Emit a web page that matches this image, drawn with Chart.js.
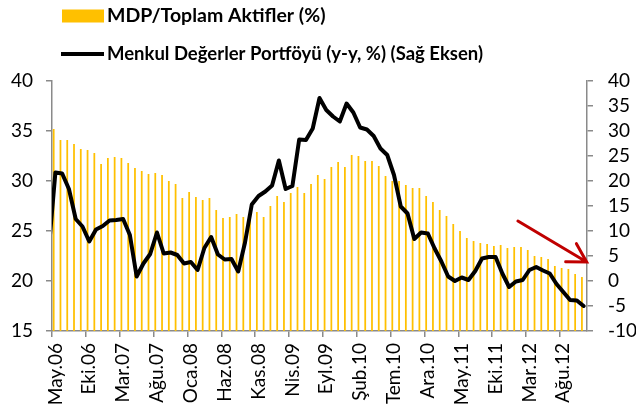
<!DOCTYPE html>
<html lang="tr">
<head>
<meta charset="utf-8">
<script src="https://cdn.jsdelivr.net/npm/chart.js@4.4.0/dist/chart.umd.min.js"></script>
<style>
  html, body { margin: 0; padding: 0; background: #fff; }
  #caixa { width: 636px; height: 415px; position: relative; }
</style>
</head>
<body>
<div id="caixa"><canvas id="grafico"></canvas></div>
<script>
'use strict';

// DADOS
const meses = [
    'May.06', 'Haz.06', 'Tem.06', 'Ağu.06', 'Eyl.06', 'Eki.06', 'Kas.06', 'Ara.06',
    'Oca.07', 'Şub.07', 'Mar.07', 'Nis.07', 'May.07', 'Haz.07', 'Tem.07', 'Ağu.07', 'Eyl.07', 'Eki.07', 'Kas.07', 'Ara.07',
    'Oca.08', 'Şub.08', 'Mar.08', 'Nis.08', 'May.08', 'Haz.08', 'Tem.08', 'Ağu.08', 'Eyl.08', 'Eki.08', 'Kas.08', 'Ara.08',
    'Oca.09', 'Şub.09', 'Mar.09', 'Nis.09', 'May.09', 'Haz.09', 'Tem.09', 'Ağu.09', 'Eyl.09', 'Eki.09', 'Kas.09', 'Ara.09',
    'Oca.10', 'Şub.10', 'Mar.10', 'Nis.10', 'May.10', 'Haz.10', 'Tem.10', 'Ağu.10', 'Eyl.10', 'Eki.10', 'Kas.10', 'Ara.10',
    'Oca.11', 'Şub.11', 'Mar.11', 'Nis.11', 'May.11', 'Haz.11', 'Tem.11', 'Ağu.11', 'Eyl.11', 'Eki.11', 'Kas.11', 'Ara.11',
    'Oca.12', 'Şub.12', 'Mar.12', 'Nis.12', 'May.12', 'Haz.12', 'Tem.12', 'Ağu.12', 'Eyl.12', 'Eki.12', 'Kas.12'
];

// MDP / Toplam Aktifler (%) - eixo esquerdo
const mdpAktif = [
    35.2, 34.1, 34.1, 33.7, 33.2, 33.1, 32.8, 31.7, 32.3, 32.4,
    32.3, 31.8, 31.3, 31.0, 30.7, 30.8, 30.6, 30.0, 29.7, 28.3,
    28.9, 28.4, 28.1, 28.3, 27.1, 26.3, 26.4, 26.7, 26.4, 26.3,
    26.9, 26.4, 27.5, 28.5, 27.9, 28.8, 29.4, 28.8, 29.7, 30.6,
    30.2, 31.4, 31.9, 31.4, 32.6, 32.5, 32.0, 32.0, 31.5, 30.5,
    30.0, 30.0, 29.6, 29.3, 29.3, 28.5, 27.9, 27.1, 26.5, 25.7,
    25.0, 24.3, 24.0, 23.8, 23.7, 23.5, 23.6, 23.3, 23.4, 23.4,
    23.1, 22.5, 22.4, 22.2, 21.5, 21.3, 21.2, 20.7, 20.4
];

// Menkul Değerler Portföyü (y-y, %) - eixo direito
const portfoyNis06 = 6; // mes anterior, a linha entra pela borda esquerda
const portfoy = [
    21.7, 21.5, 18.4, 12.4, 10.9, 7.9, 10.3, 11.0, 12.1, 12.2,
    12.4, 9.2, 0.9, 3.5, 5.4, 9.7, 5.5, 5.7, 5.2, 3.5,
    3.8, 2.2, 6.6, 8.8, 5.3, 4.3, 4.4, 1.9, 7.7, 15.3,
    17.0, 17.9, 19.1, 24.1, 18.4, 19.0, 28.3, 28.2, 30.5, 36.6,
    34.2, 32.9, 31.9, 35.5, 33.7, 30.7, 30.3, 29.0, 26.5, 25.2,
    21.2, 14.9, 13.5, 8.4, 9.7, 9.5, 6.5, 3.9, 0.9, 0.0,
    0.7, 0.2, 2.0, 4.5, 4.8, 4.8, 1.5, -1.2, -0.1, 0.2,
    2.2, 2.8, 2.1, 1.5, -0.6, -2.2, -3.8, -3.9, -5.0
];

const ticksEsq = [15, 20, 25, 30, 35, 40];
const ticksDir = [-10, -5, 0, 5, 10, 15, 20, 25, 30, 35, 40];

// seta vermelha (indice do mes, valor eixo direito)
const seta = [[68.3, 12], [78.45, 3.8]];

const corEixo = '#8a8a8a';
const fonte = 'Lato';
Chart.defaults.font.family = fonte;
Chart.defaults.color = '#000';

const pontosLinha = [{x: -1, y: portfoyNis06}].concat(portfoy.map((v, i) => ({x: i, y: v})));

// legenda e seta desenhadas a mao
const desenhos = {
    id: 'desenhos',
    afterDatasetsDraw(chart) {
        const {ctx, scales} = chart;
        const x0 = scales.x2.getPixelForValue(seta[0][0]);
        const y0 = scales.y2.getPixelForValue(seta[0][1]);
        const x1 = scales.x2.getPixelForValue(seta[1][0]);
        const y1 = scales.y2.getPixelForValue(seta[1][1]);
        const ang = Math.atan2(y1 - y0, x1 - x0);
        const tam = 21;
        ctx.save();
        ctx.strokeStyle = '#C00000';
        ctx.lineWidth = 3;
        ctx.lineCap = 'round';
        ctx.beginPath();
        ctx.moveTo(x0, y0);
        ctx.lineTo(x1, y1);
        ctx.moveTo(x1 - tam * Math.cos(ang - Math.PI / 6), y1 - tam * Math.sin(ang - Math.PI / 6));
        ctx.lineTo(x1, y1);
        ctx.lineTo(x1 - tam * Math.cos(ang + Math.PI / 6), y1 - tam * Math.sin(ang + Math.PI / 6));
        ctx.stroke();
        ctx.restore();
    },
    afterDraw(chart) {
        const ctx = chart.ctx;
        const ds = chart.data.datasets;
        ctx.save();
        ctx.textBaseline = 'middle';
        // barras
        ctx.fillStyle = ds[0].backgroundColor;
        ctx.fillRect(62, 9.5, 42, 13);
        ctx.fillStyle = '#000';
        ctx.font = 'bold 19.5px ' + fonte;
        ctx.fillText(ds[0].label, 107, 16);
        // linha
        ctx.strokeStyle = ds[1].borderColor;
        ctx.lineWidth = 4;
        ctx.beginPath();
        ctx.moveTo(61, 54);
        ctx.lineTo(104, 54);
        ctx.stroke();
        ctx.font = 'bold 18.5px ' + fonte;
        ctx.fillText(ds[1].label, 107, 54);
        ctx.restore();
    }
};

const ctx = document.getElementById('grafico').getContext('2d');
const grafico = new Chart(ctx, {
    plugins: [desenhos],
    data: {
        labels: meses,
        datasets: [{
            type: 'bar',
            label: 'MDP/Toplam Aktifler (%)',
            data: mdpAktif,
            backgroundColor: '#FFC000',
            xAxisID: 'x',
            yAxisID: 'y',
            barPercentage: 0.52,
            categoryPercentage: 1,
            order: 2
        }, {
            type: 'line',
            label: 'Menkul Değerler Portföyü (y-y, %) (Sağ Eksen)',
            data: pontosLinha,
            borderColor: '#000',
            borderWidth: 4,
            borderJoinStyle: 'round',
            borderCapStyle: 'round',
            pointRadius: 0,
            tension: 0,
            clip: 0,
            xAxisID: 'x2',
            yAxisID: 'y2',
            order: 1
        }]
    },
    options: {
        responsive: true,
        maintainAspectRatio: false,
        animation: false,
        layout: {
            padding: {top: 81, left: 0, right: 0, bottom: 0}
        },
        scales: {
            x: {
                type: 'category',
                offset: true,
                grid: {
                    offset: true,
                    drawOnChartArea: false,
                    tickLength: 6,
                    lineWidth: 1.5,
                    color: (c) => (c.index % 5 === 0 ? corEixo : 'transparent')
                },
                border: {color: corEixo, width: 1.5},
                ticks: {
                    autoSkip: false,
                    maxRotation: 90,
                    minRotation: 90,
                    padding: 6,
                    font: {size: 19},
                    callback: function (v, i) {
                        return i % 5 === 0 ? this.getLabelForValue(v) : '';
                    }
                },
                afterFit: (s) => { s.height = 84; }
            },
            x2: {
                type: 'linear',
                display: false,
                min: -0.5,
                max: meses.length - 0.5
            },
            y: {
                position: 'left',
                min: ticksEsq[0],
                max: ticksEsq[ticksEsq.length - 1],
                ticks: {stepSize: 5, autoSkip: false, padding: 13, font: {size: 19}},
                grid: {drawOnChartArea: false, tickLength: 6, lineWidth: 1.5, color: corEixo},
                border: {color: corEixo, width: 1.5},
                afterFit: (s) => { s.width = 52; }
            },
            y2: {
                position: 'right',
                min: ticksDir[0],
                max: ticksDir[ticksDir.length - 1],
                ticks: {stepSize: 5, autoSkip: false, padding: 15, font: {size: 19}},
                grid: {drawOnChartArea: false, tickLength: 6, lineWidth: 1.5, color: corEixo},
                border: {color: corEixo, width: 1.5},
                afterFit: (s) => { s.width = 49; }
            }
        },
        plugins: {
            legend: {display: false},
            tooltip: {enabled: false}
        }
    }
});
</script>
</body>
</html>
